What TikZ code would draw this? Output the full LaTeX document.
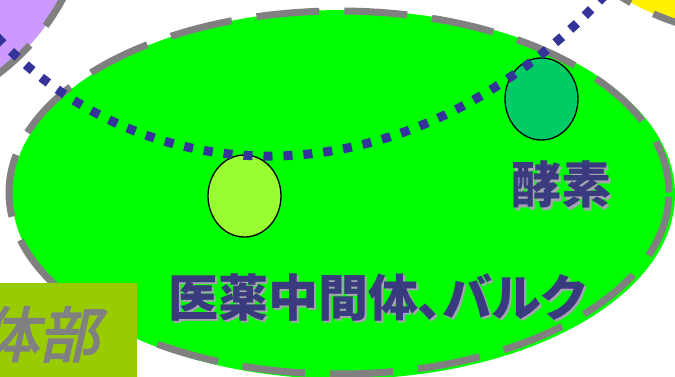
\documentclass[tikz,border=0pt]{standalone}
\usepackage{fontspec}
\usetikzlibrary{shapes.geometric}
\newfontfamily\cjk{Noto Sans CJK JP}
\newfontfamily\cjkp{Noto Sans CJK JP}[RawFeature=+palt]
\newfontfamily\cjkslant{Noto Sans CJK JP}[FakeSlant=0.22,FakeBold=3]
\definecolor{bordergray}{RGB}{128,128,128}
\definecolor{dotblue}{RGB}{51,51,153}
\definecolor{txtblue}{RGB}{58,58,126}
\definecolor{shadowgray}{RGB}{165,165,175}
\definecolor{lilac}{RGB}{204,153,255}
\definecolor{bigGreen}{RGB}{0,255,0}
\definecolor{limeA}{RGB}{153,255,51}
\definecolor{greenB}{RGB}{0,204,102}
\definecolor{olive}{RGB}{153,204,0}
\tikzset{
  border/.style={draw=bordergray, line width=7pt, dash pattern=on 63pt off 25pt},
  dotline/.style={draw=dotblue, line width=9pt, dash pattern=on 9pt off 11pt},
  bubble/.style={ellipse, draw=black, line width=1.3pt, minimum width=73pt, minimum height=82pt, inner sep=0pt},
  lbl/.style={text=txtblue, inner sep=0pt, anchor=base},
  shd/.style={text=shadowgray, inner sep=0pt, anchor=base},
}
\begin{document}
\begin{tikzpicture}[x=1pt,y=-1pt]
\useasboundingbox (0,0) rectangle (675,377);
\clip (0,0) rectangle (675,377);
% purple region top-left
\fill[lilac] (-140,-110) circle (230pt);
\draw[border, dash phase=20pt] (-140,-110) circle (230pt);
% yellow region top-right
\fill[yellow] (760,-230) circle (266pt);
\draw[border] (760,-230) circle (266pt);
% big green ellipse
\fill[bigGreen] (343.5,194.5) ellipse [x radius=331.5pt, y radius=184.5pt];
\draw[border, dash phase=10pt] (339,192.5) ellipse [x radius=330pt, y radius=181.5pt];
% bubbles
\node[bubble, fill=limeA] (b1) at (244.5,196) {};
\node[bubble, fill=greenB] (b2) at (541.5,99) {};
% texts
\node[shd, font=\cjk\bfseries\fontsize{50}{50}\selectfont] (e1s) at (563,206) {酵素};
\node[lbl, font=\cjk\bfseries\fontsize{50}{50}\selectfont] (e1) at (561,204) {酵素};
\node[shd, font=\cjkp\bfseries\fontsize{50}{50}\selectfont] (e2s) at (379,318) {医薬中間体、バルク};
\node[lbl, font=\cjkp\bfseries\fontsize{50}{50}\selectfont] (e2) at (377,316) {医薬中間体、バルク};
% bottom-left box
\fill[olive] (0,283) rectangle (137,377);
\node[text=bordergray, inner sep=0pt, anchor=base east, font=\cjkslant\fontsize{60}{60}\selectfont] (hq) at (99,357) {体部};
% dotted curve
\coordinate (ds) at (-3,37);
\coordinate (de) at (606,-6);
\draw[dotline] (ds) .. controls (150,200) and (410,205) .. (de);
\end{tikzpicture}
\end{document}
